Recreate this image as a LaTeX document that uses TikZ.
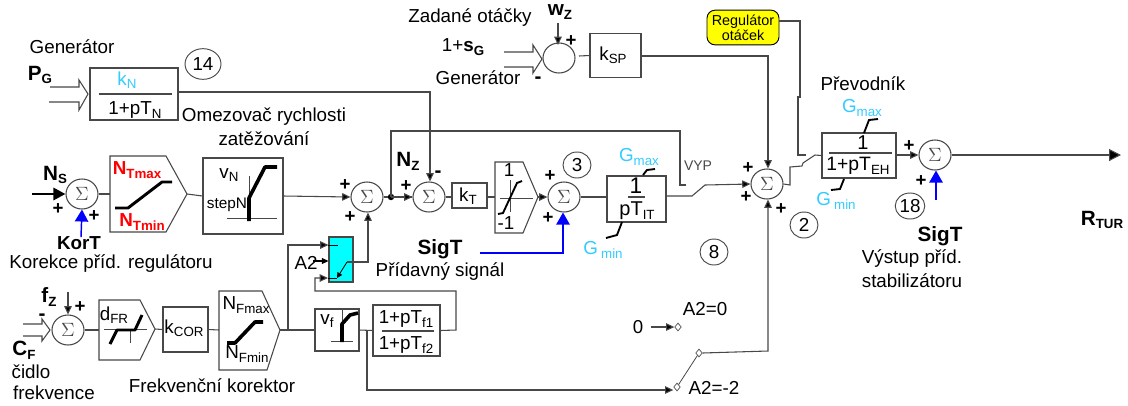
\documentclass[tikz,border=0pt]{standalone}
\usepackage{fontspec}
\setmainfont{Liberation Sans}
\newfontfamily\serf{Liberation Serif}
\usetikzlibrary{arrows.meta,shapes.geometric,calc}
\definecolor{ln}{HTML}{484848}
\definecolor{sky}{HTML}{33CCFF}
\definecolor{nred}{HTML}{FF0000}
\definecolor{yel}{HTML}{FFFF00}
\definecolor{cyb}{HTML}{00FFFF}
\definecolor{blu}{HTML}{0000FF}
\newcommand\fa{\fontsize{14.1}{16}\selectfont}
\newcommand\fab{\fontsize{15.5}{16}\selectfont}
\newcommand\fb{\fontsize{10}{11}\selectfont}
\newcommand\fc{\fontsize{10.8}{12}\selectfont}
\newcommand\lowr[1]{\raisebox{-0.35ex}{\fb #1}}
\newcommand\lowb[1]{\raisebox{-0.35ex}{\fb\bfseries #1}}
\newcommand\sumat[3]{\node[sumn] (#1) at (#2,#3) {\serf\fa\color{ln}$\Sigma$};}
\newcommand\plusat[3]{\node[plusn] (#1) at (#2,#3) {+};}
\newcommand\ring[4]{\node[ringn] (#1) at (#2,#3) {#4};}
\tikzset{
  x=0.75pt,y=-0.75pt,
  wire/.style={draw=ln,line width=0.8pt},
  ar/.style={wire,-{Triangle[length=6.2pt,width=5.6pt,fill=black]}},
  bar/.style={draw=blu,line width=1.1pt,-{Triangle[length=9pt,width=10pt,fill=blu]}},
  thk/.style={line width=2.7pt,black,line join=round},
  lim/.style={line width=1.4pt,black},
  thin/.style={draw=ln,line width=0.6pt},
  block/.style={draw=ln,line width=0.8pt,fill=white},
  bx/.style 2 args={block,minimum width=#1*0.75pt,minimum height=#2*0.75pt,inner sep=0pt},
  sumn/.style={draw=ln,line width=0.8pt,ellipse,fill=white,minimum width=24pt,minimum height=22.5pt,inner sep=0pt},
  ringn/.style={draw=ln,line width=0.7pt,ellipse,minimum width=21pt,minimum height=19.5pt,inner sep=0pt,font=\fa},
  plusn/.style={font=\fontsize{14}{14}\selectfont\bfseries,inner sep=0pt},
  txt/.style={font=\fa,inner sep=0pt,text=black,align=center},
  bld/.style={font=\fab\bfseries,inner sep=0pt,text=black},
  skyt/.style={font=\fa,inner sep=0pt,text=sky},
  redt/.style={font=\fa\bfseries,inner sep=0pt,text=nred},
  dmd/.style={draw=ln,line width=0.5pt,diamond,fill=white,minimum width=5pt,minimum height=6pt,inner sep=0pt},
}
\begin{document}
\begin{tikzpicture}
\useasboundingbox[fill=white] (0,0) rectangle (1128,405);
% generator power block
\node[txt] (tGen) at (72,47) {Generátor};
\node[bld] (tPG) at (40,75) {P\lowb{G}};
\draw[wire] (50,87)--(79,87)--(79,80)--(88,94)--(79,110)--(79,102)--(49,102);
\node[bx={88}{52}] (kN) at (134,94) {};
\draw[wire] (99,94)--(172,94);
\node[skyt] (tkN) at (127,80) {k\lowr{N}};
\node[txt] (tTN) at (135,110) {1+pT\lowr{N}};
\node[ringn,minimum width=27pt,minimum height=23pt] (r14) at (203,64) {14};
\node[txt] (tOm) at (264,117) {Omezovač rychlosti};
\node[txt] (tZat) at (264,139) {zatěžování};
% speed setpoint
\node[txt] (tZad) at (470,18) {Zadané otáčky};
\node[txt] (t1s) at (463,47) {1+\textbf{s}\lowb{G}};
\node[txt] (tGen2) at (478,78) {Generátor};
\node[bld] (twz) at (560,12) {w\lowb{Z}};
\draw[wire] (504,52)--(533,52)--(533,45)--(542,59)--(533,73)--(533,67)--(504,67);
\node[draw=ln,line width=0.8pt,ellipse,minimum width=24pt,minimum height=22.5pt,inner sep=0pt] (sw) at (559,58) {};
\coordinate (wzt) at (558,23);
\draw[ar] (wzt)--(558,45);
\plusat{pw}{571}{41}
\node[bld] (mw) at (538,80) {-};
\node[bx={51}{44}] (kSP) at (615.5,55.5) {};
\node[txt] (tkSP) at (613,55) {k\lowr{SP}};
\draw[wire] (579,56)--(kSP.west);
% regulator
\node[draw=black,line width=0.7pt,fill=yel,rounded corners=6pt,minimum width=54pt,minimum height=26pt,inner sep=0pt,font=\fc,align=center] (reg) at (743,27.5) {Regulátor\\[-1pt]otáček};
\node[txt] (tPre) at (863,84) {Převodník};
% Ns row
\node[bld] (tNs) at (55,175) {N\lowb{S}};
\sumat{s1}{82}{194}
\coordinate (ns0) at (32,194);
\draw[black,line width=2.2pt,-{Triangle[length=9pt,width=9pt]}] (ns0)--(s1.west);
\plusat{p1a}{58}{209}
\plusat{p1b}{94}{216}
\coordinate (kt0) at (81,237);
\draw[bar] (kt0)--(s1.south);
\node[bld,font=\fa\bfseries] (tKorT) at (79,243) {KorT};
\node[txt] (tKK) at (111,264) {Korekce příd. regulátoru};
\draw[block] (110,156)--(166,156)--(187,194)--(166,232)--(110,232)--cycle;
\coordinate (ntw) at (110,194); \coordinate (nte) at (187,194);
\draw[wire] (s1.east)--(ntw);
\draw[thk,line width=2.2pt] (115,208)--(128,208)--(162,182)--(172,182);
\node[redt] (tNmax) at (137,170) {N\lowb{\color{nred}Tmax}};
\node[redt] (tNmin) at (142,222) {N\lowb{\color{nred}Tmin}};
\node[bx={80}{76}] (vN) at (243,196) {};
\draw[wire] (nte)--(vN.west);
\draw[thin] (249,176)--(249,221) (227,218)--(277,218);
\draw[thk] (249,221)--(249,198)--(265,167)--(277,167);
\node[txt] (tvN) at (229,175) {v\lowr{N}};
\node[font=\fontsize{11.5}{12}\selectfont,inner sep=0pt] (tstep) at (227,205) {stepN};
\sumat{s2}{367}{197}
\draw[ar] (vN.east)--(s2.west);
\plusat{p2a}{345}{185}
\sumat{s3}{429}{197}
\draw[wire] (s2.east)--(s3.west);
\fill[black] (391,197) circle (3.2);
\coordinate (jn) at (391,197);
\draw[ar] (jn)--(s3.west);
\node[bld] (tNz) at (408,161) {N\lowb{Z}};
\plusat{p3a}{406}{186}
\node[bld] (m3) at (438,174) {-};
\draw[ar] (kN.east |- 0,92)--(430,92)--(s3.north -| 430,0);
\node[bx={35}{25}] (kT) at (469.5,195.5) {};
\node[txt] (tkT) at (468,196) {k\lowr{T}};
\draw[wire] (s3.east)--(kT.west |- s3.east);
\draw[block] (495,162)--(523,162)--(538,197)--(523,233)--(495,233)--cycle;
\coordinate (liw) at (495,197); \coordinate (lie) at (538,197);
\draw[wire] (kT.east |- s3.east)--(liw);
\draw[thin] (500,198)--(533,198) (510,180)--(510,212);
\draw[lim] (498,214)--(503,213)--(517,183)--(522,181);
\node[txt] (t1) at (509,170) {1};
\node[txt] (tm1) at (506,223) {-1};
\sumat{s4}{564}{197}
\draw[ar] (lie)--(s4.west);
\ring{r3}{577}{165}{3}
\plusat{p4a}{550}{176}
\plusat{p4b}{548}{218}
\node[bld] (tSig) at (440,249) {SigT};
\node[txt] (tPrid) at (440,272) {Přídavný signál};
\coordinate (sg0) at (480,253);
\draw[bar] (sg0)--(563,253)--(s4.south -| 563,0);
\node[bx={59}{46}] (it) at (636.5,199) {};
\node[font=\fontsize{17}{17}\selectfont,inner sep=0pt] (t1i) at (636,186) {1};
\draw[line width=1.2pt,ln] (628,197)--(645,197);
\node[txt] (tIT) at (637,211) {{\fontsize{15}{15}\selectfont pT}\lowr{IT}};
\draw[wire] (s4.east)--(it.west |- s4.east);
\node[skyt] (tGm1) at (639,157) {G\lowr{max}};
\draw[lim] (643,175)--(647,170)--(655,169);
\node[skyt] (tGn1) at (603,250) {G\,\lowr{min}};
\draw[lim] (622,222)--(617,235)--(606,238);
% feedback with VYP switch
\draw[wire] (jn)--(391,131)--(680,131)--(680,185)--(686,185);
\node[font=\fontsize{10.5}{11}\selectfont,inner sep=0pt,text=ln] (tVYP) at (698,166) {VYP};
\sumat{s5}{767}{184}
\draw[wire] (it.east |- 0,196)--(692,196)--(705,185);
\draw[ar] (705,185)--(s5.west);
\plusat{p5a}{748}{168}
\plusat{p5b}{746}{197}
\plusat{p5c}{781}{209}
\draw[ar] (kSP.east |- 0,56)--(768,56)--(s5.north -| 768,0);
\ring{r8}{714}{252}{8}
\ring{r2}{804}{225}{2}
% converter
\node[bx={74}{45}] (eh) at (859,155.5) {};
\draw[line width=1.2pt,ln] (829,153)--(892,153);
\node[font=\fontsize{15}{15}\selectfont,inner sep=0pt] (t1e) at (863,143) {1};
\node[txt] (tEH) at (858,166) {{\fontsize{14.5}{15}\selectfont 1+pT}\lowr{EH}};
\draw[wire] (s5.east)--(790,185)--(790,167)--(802,166)--(803,163)--(815,155)--(eh.west);
\draw[wire] (reg.east |- 0,21)--(800,21)--(800,97)--(798,97)--(798,155)--(806,155);
\node[skyt] (tGm2) at (862,108) {G\lowr{max}};
\draw[lim] (864,133)--(869,120)--(878,119);
\node[skyt] (tGn2) at (836,201) {G\,\lowr{min}};
\draw[lim] (844,179)--(840,189)--(831,190);
\sumat{s6}{935}{155}
\draw[ar] (eh.east |- s6.west)--(s6.west);
\plusat{p6a}{909}{146}
\plusat{p6b}{921}{181}
\coordinate (sg2) at (936,200);
\draw[bar] (sg2)--(s6.south -| 936,0);
\ring{r18}{910}{206}{18}
\node[bld] (tSig2) at (940,236) {SigT};
\node[txt] (tVys) at (912,259) {Výstup příd.};
\node[txt] (tSta) at (912,281) {stabilizátoru};
\coordinate (out) at (1121,155);
\draw[wire,-{Triangle[length=9pt,width=9pt,fill=black]}] (s6.east)--(out);
\node[bld] (tR) at (1102,220) {R\lowb{TUR}};
% frequency row
\node[txt] (tCid) at (31,372) {čidlo};
\node[txt] (tFre) at (54,393) {frekvence};
\node[bld] (tCF) at (24,350) {C\lowb{F}};
\node[bld] (tfz) at (49,297) {f\lowb{Z}};
\draw[wire] (23,324)--(42,324)--(42,319)--(50,330)--(42,341)--(42,336)--(23,336);
\sumat{s7}{68}{330}
\node[bld] (m7) at (42,317) {-};
\coordinate (fz0) at (68,292);
\draw[ar] (fz0)--(s7.north);
\plusat{p7}{80}{307}
\draw[block] (99,300)--(140,300)--(155,329)--(140,360)--(99,360)--cycle;
\coordinate (dw) at (99,330); \coordinate (de) at (155,329);
\draw[wire] (s7.east)--(dw);
\draw[thin] (104,329)--(147,329) (130,330)--(130,343);
\draw[thk,line width=2.2pt] (110,344)--(117,330)--(135,330)--(142,315);
\node[txt] (tdFR) at (114,315) {d\lowr{FR}};
\node[bx={45}{45}] (kC) at (185.5,329.5) {};
\node[txt] (tkC) at (184,328) {k\lowr{COR}};
\draw[wire] (de)--(kC.west);
\draw[block] (219,291)--(262,291)--(280,330)--(267,370)--(219,370)--cycle;
\coordinate (nfw) at (219,330); \coordinate (nfe) at (280,330);
\draw[wire] (kC.east)--(nfw);
\draw[thk] (227,343)--(235,343)--(255,322)--(263,322);
\node[txt] (tNFx) at (246,305) {N\lowr{Fmax}};
\node[txt] (tNFn) at (247,354) {N\lowr{Fmin}};
\node[txt] (tFK) at (212,386) {Frekvenční korektor};
\node[bx={44}{42}] (vf) at (337,330) {};
\draw[wire] (nfe)--(vf.west);
\draw[thin] (342,309)--(342,341) (331,341)--(353,341);
\draw[thk] (342,342)--(342,324)--(350,315)--(358,313);
\node[txt] (tvf) at (327,321) {v\lowr{f}};
\node[bx={67}{51}] (ff) at (406.5,330.5) {};
\draw[wire] (vf.east)--(ff.west);
\draw[thin,line width=0.8pt] (382,331)--(434,331);
\node[txt] (tf1) at (406,319) {1+pT\lowr{f1}};
\node[txt] (tf2) at (406,345) {1+pT\lowr{f2}};
% selector
\node[draw=ln,line width=0.8pt,fill=cyb,minimum width=18pt,minimum height=33.75pt,inner sep=0pt] (sel) at (341,259.5) {};
\node[txt] (tA2) at (306,263) {A2};
\coordinate (br) at (288,330);
\draw[ar] (br)--(288,245)--(sel.west |- 0,245);
\draw[thin,black] (328,245)--(338,245);
\coordinate (a2s) at (313,261);
\draw[black,line width=0.8pt,-{Triangle[length=5pt,width=4.5pt]}] (a2s)--(sel.west |- a2s);
\draw[ar] (ff.east)--(456,330)--(456,291)--(315,291)--(315,278)--(328,278);
\draw[black,line width=0.6pt] (328,278)--(337,278);
\draw[black,line width=0.6pt,-{Triangle[length=4pt,width=4pt]}] (347,262)--(337,278);
\draw[ar] (347,262)--(368,262)--(s2.south -| 368,0);
\plusat{p8}{350}{217}
% switch bottom right
\node[font=\fontsize{14}{15}\selectfont,inner sep=0pt] (t0) at (638,327) {0};
\node[dmd] (d0) at (678,327) {};
\draw[ar] (651,327)--(d0.west);
\node[txt] (tA0) at (705,309) {A2=0};
\node[dmd] (d2) at (677,387) {};
\node[dmd] (d3) at (699,353) {};
\draw[thin] (d3)--(d2);
\draw[ar] (d3.east)--(768,351)--(s5.south -| 768,0);
\node[txt] (tA2m) at (714,388) {A2=-2};
\coordinate (tp) at (367,330);
\draw[ar] (tp)--(367,390)--(d2.west |- 0,390);
\end{tikzpicture}
\end{document}
